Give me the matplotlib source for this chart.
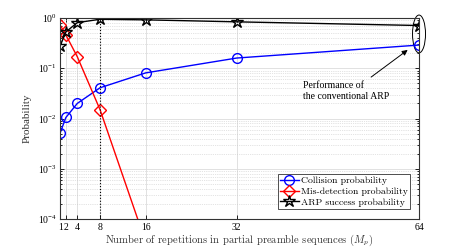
import matplotlib
matplotlib.use("Agg")
import matplotlib.pyplot as plt
from matplotlib.patches import Ellipse
import numpy as np

# repetitions M_p
reps = [1, 2, 4, 8, 16, 32, 64]
xtick_labels = ["1", "2", "4", "8", "16", "32", "64"]

collision = [0.0052, 0.0105, 0.020, 0.041, 0.081, 0.16, 0.29]
misdetect = [0.72, 0.46, 0.17, 0.015, 3.5e-5, 1e-9, 1e-16]
success = [0.28, 0.53, 0.81, 0.945, 0.92, 0.84, 0.71]

plt.rcParams["font.family"] = ["Liberation Serif", "DejaVu Serif"]
plt.rcParams["mathtext.fontset"] = "stix"

fig = plt.figure(figsize=(4.63, 2.47), dpi=100)
ax = fig.add_axes([0.130, 0.113, 0.775, 0.814])

ax.semilogy(reps, collision, "o-", color="#0000ff", lw=1.0, ms=7,
            mfc="none", mew=1.0, label="Collision probability")
ax.semilogy(reps, misdetect, "D-", color="#ff0000", lw=1.0, ms=6,
            mfc="none", mew=1.0, label="Mis-detection probability")
ax.semilogy(reps, success, "*-", color="k", lw=1.0, ms=9,
            mfc="none", mew=1.0, label="ARP success probability")

ax.axvline(8, color="k", ls=":", lw=0.8)

ax.set_xlim(1, 64)
ax.set_ylim(1e-4, 1)
ax.set_xticks(reps)
ax.set_xticklabels(xtick_labels)
ax.tick_params(which="both", direction="in", top=True, right=True,
               labelsize=7, width=0.6, pad=2.5)
ax.tick_params(which="major", length=3)
ax.tick_params(which="minor", length=1.5)
for s in ax.spines.values():
    s.set_linewidth(0.8)
    s.set_color("#333333")

ax.grid(True, which="major", color="#dcdcdc", lw=0.6, ls="-")
ax.grid(True, which="minor", axis="y", color="#c8c8c8", lw=0.5, ls=":")
ax.set_axisbelow(True)

ax.set_ylabel("Probability", fontsize=8, color="#333333")
ax.set_xlabel(r"Number of repetitions in partial preamble sequences ($M_p$)",
              fontsize=7.6, fontfamily="cmr10", math_fontfamily="cm",
              color="#333333", labelpad=0.5)

leg = ax.legend(loc="lower right", bbox_to_anchor=(0.98, 0.04),
                fancybox=False, framealpha=1,
                edgecolor="#333333", handlelength=1.9, borderpad=0.25,
                labelspacing=0.2, handletextpad=0.2, borderaxespad=0.2,
                prop={"family": "cmr10", "size": 7})
leg.get_frame().set_linewidth(0.6)

# conventional ARP highlight
ell = Ellipse((1.0, 1 - 16 / 202), 13 / 359, 38 / 202, transform=ax.transAxes,
              fill=False, ec="k", lw=0.7, clip_on=False)
ax.add_patch(ell)
ax.annotate("", xy=(62.4, 0.25), xytext=(55.2, 0.062),
            arrowprops=dict(arrowstyle="-|>", color="k", lw=0.7,
                            mutation_scale=8))
ax.text(43.6, 0.055, "Performance of\nthe conventional ARP", fontsize=7,
        va="top", ha="left", linespacing=1.2)

fig.savefig("out.png", dpi=100)
